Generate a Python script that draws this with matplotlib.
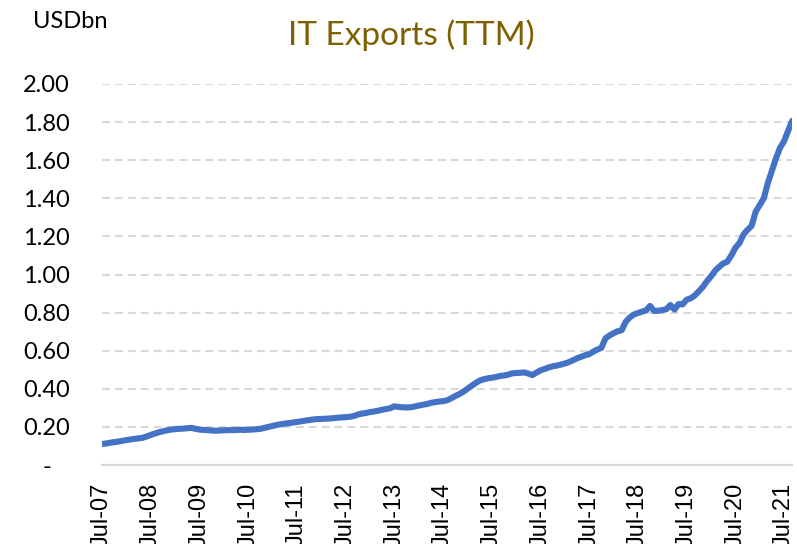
import numpy as np
import matplotlib as mpl
import matplotlib.pyplot as plt
from matplotlib.ticker import FuncFormatter

# monthly IT exports, trailing twelve months, USD bn (Jul-07 .. Sep-21)
it_exports = [
    0.110, 0.113, 0.117, 0.120, 0.123, 0.127, 0.131, 0.134, 0.137, 0.140, 0.143, 0.150,  # Jul-07
    0.158, 0.165, 0.172, 0.177, 0.182, 0.186, 0.188, 0.190, 0.191, 0.193, 0.195, 0.190,  # Jul-08
    0.186, 0.184, 0.183, 0.181, 0.180, 0.181, 0.182, 0.183, 0.183, 0.184, 0.185, 0.184,  # Jul-09
    0.185, 0.186, 0.188, 0.190, 0.195, 0.200, 0.205, 0.210, 0.214, 0.217, 0.220, 0.223,  # Jul-10
    0.226, 0.229, 0.233, 0.236, 0.239, 0.241, 0.242, 0.243, 0.244, 0.246, 0.248, 0.250,  # Jul-11
    0.251, 0.253, 0.257, 0.265, 0.270, 0.273, 0.278, 0.281, 0.285, 0.290, 0.294, 0.298,  # Jul-12
    0.308, 0.305, 0.303, 0.302, 0.303, 0.307, 0.312, 0.316, 0.320, 0.326, 0.330, 0.333,  # Jul-13
    0.335, 0.340, 0.350, 0.362, 0.372, 0.385, 0.400, 0.415, 0.430, 0.443, 0.450, 0.455,  # Jul-14
    0.458, 0.462, 0.467, 0.470, 0.474, 0.481, 0.483, 0.484, 0.486, 0.480, 0.472, 0.485,  # Jul-15
    0.497, 0.504, 0.512, 0.518, 0.522, 0.527, 0.533, 0.540, 0.550, 0.560, 0.568, 0.576,  # Jul-16
    0.582, 0.595, 0.606, 0.615, 0.665, 0.680, 0.692, 0.702, 0.708, 0.752, 0.775, 0.790,  # Jul-17
    0.798, 0.805, 0.812, 0.835, 0.808, 0.810, 0.813, 0.818, 0.840, 0.816, 0.845, 0.843,  # Jul-18
    0.868, 0.875, 0.890, 0.912, 0.935, 0.965, 0.990, 1.020, 1.040, 1.058, 1.067, 1.100,  # Jul-19
    1.140, 1.165, 1.210, 1.235, 1.255, 1.330, 1.365, 1.400, 1.480, 1.545, 1.610, 1.665,  # Jul-20
    1.700, 1.755, 1.807,                                                                  # Jul-21
]
tick_labels = ["Jul-%02d" % y for y in range(7, 22)]
y_ticks = [0.0, 0.2, 0.4, 0.6, 0.8, 1.0, 1.2, 1.4, 1.6, 1.8, 2.0]

title_text = "IT Exports (TTM)"
unit_text = "USDbn"


def fmt_y(v, pos):
    # excel accounting style: dash for zero
    if abs(v) < 1e-9:
        return "-   "
    return "%.2f" % v


def main():
    fig = plt.figure(figsize=(7.97, 5.44), dpi=100)
    ax = fig.add_axes([0.128, 0.1452, 0.866, 0.7004])

    months = np.arange(len(it_exports))
    ax.plot(months, it_exports, color="#4472C4", lw=4.4,
            solid_capstyle="round", solid_joinstyle="round", zorder=3)

    ax.set_xlim(0, len(it_exports) - 1)
    ax.set_ylim(0, 2.0)

    ax.set_xticks(np.arange(len(tick_labels)) * 12)
    ax.set_xticklabels(tick_labels, rotation=90, va="top", ha="center",
                       family="Liberation Sans", fontsize=17)
    ax.set_yticks(y_ticks)
    ax.yaxis.set_major_formatter(FuncFormatter(fmt_y))
    for lab in ax.get_yticklabels():
        lab.set_family("Lato")
        lab.set_fontsize(17)

    ax.tick_params(axis="x", length=0, pad=13)
    ax.tick_params(axis="y", length=0, pad=23)

    ax.yaxis.grid(True, color="#D9D9D9", lw=1.5, linestyle=(0, (3.8, 2.4)))
    ax.set_axisbelow(True)
    for s in ["left", "right", "top"]:
        ax.spines[s].set_visible(False)
    ax.spines["bottom"].set_color("#D9D9D9")
    ax.spines["bottom"].set_linewidth(1.6)

    fig.text(411 / 797, 1 - 35 / 544, title_text, ha="center", va="center",
             family="Lato", fontsize=24, color="#7F6000")
    fig.text(33 / 797, 1 - 21 / 544, unit_text, ha="left", va="center",
             family="Lato", fontsize=17, color="black")

    fig.savefig("out.png", dpi=100)


if __name__ == "__main__":
    main()
